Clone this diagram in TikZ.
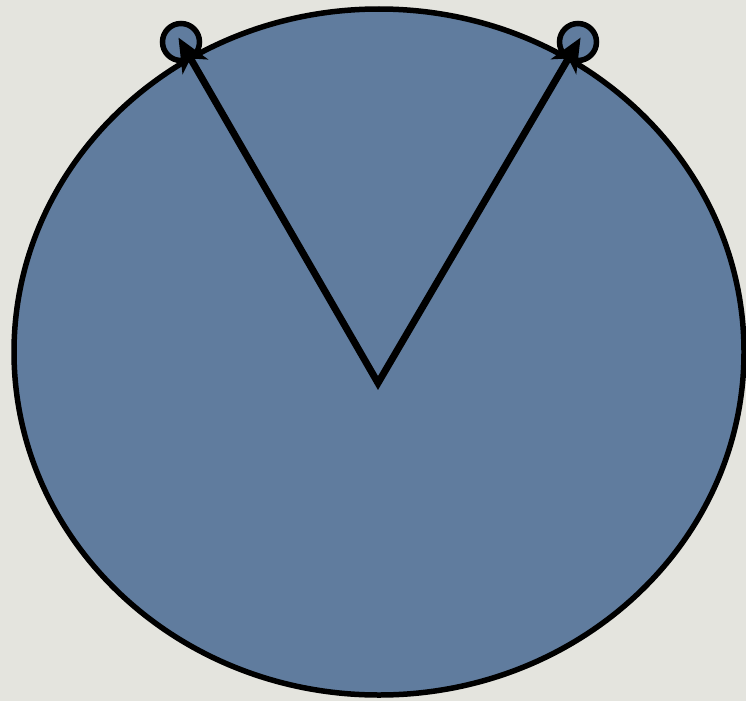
\documentclass[tikz,border=0pt]{standalone}
\usetikzlibrary{calc}
\definecolor{bgc}{RGB}{228,228,222}
\definecolor{fillc}{RGB}{96,124,158}
\begin{document}
\begin{tikzpicture}[x=1pt,y=-1pt,
  vecline/.style={line width=7pt,line join=miter,miter limit=10},
  vechead/.style={fill=black},
  tipcircle/.style={circle,draw,line width=5.5pt,fill=fillc,minimum size=37pt,inner sep=0pt}]
\fill[bgc] (0,0) rectangle (746,701);
\useasboundingbox (0,0) rectangle (746,701);
\draw[line width=5.5pt,fill=fillc] (379,352) ellipse [x radius=365, y radius=343];
\coordinate (o) at (378,383);
\node[tipcircle] (a) at (181,42) {};
\node[tipcircle] (b) at (578,42) {};
% arrow heads
\coordinate (ta) at ($(a.center)!-5pt!(o)$);
\coordinate (ba) at ($(ta)!34pt!(o)$);
\coordinate (ia) at ($(ta)!24pt!(o)$);
\coordinate (la) at ($(ba)!15pt!90:(ta)$);
\coordinate (ra) at ($(ba)!15pt!-90:(ta)$);
\coordinate (tb) at ($(b.center)!-5pt!(o)$);
\coordinate (bb) at ($(tb)!34pt!(o)$);
\coordinate (ib) at ($(tb)!24pt!(o)$);
\coordinate (lb) at ($(bb)!15pt!90:(tb)$);
\coordinate (rb) at ($(bb)!15pt!-90:(tb)$);
\draw[vecline] (ia) -- (o) -- (ib);
\fill[vechead] (ta) -- (la) -- (ia) -- (ra) -- cycle;
\fill[vechead] (tb) -- (lb) -- (ib) -- (rb) -- cycle;
\end{tikzpicture}
\end{document}
